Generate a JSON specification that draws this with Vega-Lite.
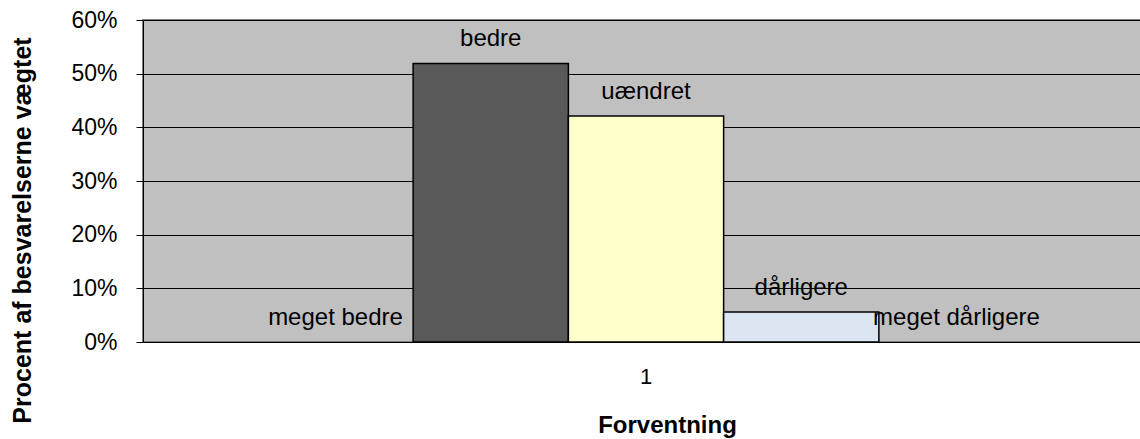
{
  "$schema": "https://vega.github.io/schema/vega-lite/v6.json",
  "autosize": "none",
  "width": 1006,
  "height": 322,
  "padding": {"left": 143, "top": 20, "right": 0, "bottom": 97},
  "background": "white",
  "config": {
    "font": "Liberation Sans",
    "view": {"fill": "#C0C0C0", "stroke": "#808080", "strokeWidth": 2}
  },
  "data": {
    "values": [
      {"gruppe": "1", "svar": "meget bedre", "andel": 0.0},
      {"gruppe": "1", "svar": "bedre", "andel": 0.519},
      {"gruppe": "1", "svar": "uændret", "andel": 0.421},
      {"gruppe": "1", "svar": "dårligere", "andel": 0.056},
      {"gruppe": "1", "svar": "meget dårligere", "andel": 0.0}
    ]
  },
  "encoding": {
    "x": {
      "field": "gruppe",
      "type": "nominal",
      "scale": {"paddingInner": 0, "paddingOuter": 0.148},
      "axis": {
        "title": "Forventning",
        "titleFontSize": 24,
        "titleFontWeight": "bold",
        "titleColor": "black",
        "titleX": 524,
        "titleY": 83,
        "titleAlign": "center",
        "titleBaseline": "middle",
        "labelAngle": 0,
        "labelFontSize": 22,
        "labelColor": "black",
        "labelPadding": 24,
        "domain": false,
        "ticks": false,
        "grid": false
      }
    },
    "xOffset": {
      "field": "svar",
      "type": "nominal",
      "sort": ["meget bedre", "bedre", "uændret", "dårligere", "meget dårligere"],
      "scale": {"paddingInner": 0, "paddingOuter": 0}
    },
    "y": {
      "field": "andel",
      "type": "quantitative",
      "scale": {"domain": [0, 0.6], "nice": false},
      "axis": {
        "title": "Procent af besvarelserne vægtet",
        "titleFontSize": 25,
        "titleFontWeight": "bold",
        "titleColor": "black",
        "titleX": -121,
        "titleY": 210,
        "titleAngle": -90,
        "titleAlign": "center",
        "titleBaseline": "middle",
        "values": [0, 0.1, 0.2, 0.3, 0.4, 0.5, 0.6],
        "format": ".0%",
        "labelFontSize": 23,
        "labelColor": "black",
        "labelPadding": 19,
        "tickSize": 7,
        "tickColor": "black",
        "domainColor": "black",
        "grid": true,
        "gridColor": "black",
        "gridOpacity": 1,
        "gridWidth": 1
      }
    }
  },
  "layer": [
    {
      "mark": {"type": "bar", "stroke": "black", "strokeWidth": 1.5},
      "encoding": {
        "color": {
          "field": "svar",
          "type": "nominal",
          "scale": {
            "domain": ["meget bedre", "bedre", "uændret", "dårligere", "meget dårligere"],
            "range": ["#333399", "#595959", "#FFFFCC", "#DCE6F2", "#FFFFFF"]
          },
          "legend": null
        },
        "strokeOpacity": {"condition": {"test": "datum.andel == 0", "value": 0}, "value": 1}
      }
    },
    {
      "mark": {"type": "text", "baseline": "alphabetic", "dy": -17, "fontSize": 24, "color": "black"},
      "encoding": {
        "text": {"field": "svar"}
      }
    }
  ]
}
